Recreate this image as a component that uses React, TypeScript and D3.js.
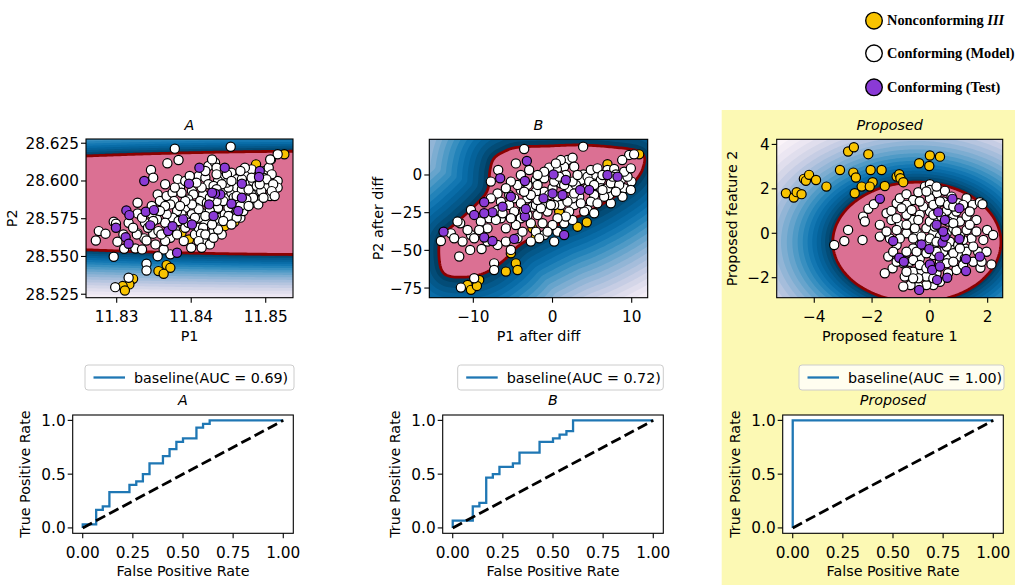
import React from "react";
import * as d3 from "d3";

// ---------------- DATA ----------------
const legendLabels = ["Nonconforming ", "Conforming (Model)", "Conforming (Test)"];

// Panel A (P1, P2)
const A_model = [
  [11.8378,28.6214],[11.8453,28.6227],[11.8383,28.6139],[11.8368,28.6117],[11.8346,28.6073],[11.8349,28.6022],[11.8507,28.6141],[11.8516,28.6177],
  [11.8272,28.5606],[11.8276,28.5668],[11.8285,28.5651],[11.8296,28.5730],[11.8299,28.5717],[11.8301,28.5598],[11.8310,28.5551],[11.8316,28.5723],
  [11.8325,28.5553],[11.8328,28.5653],[11.8328,28.5856],[11.8328,28.5785],[11.8337,28.5620],[11.8340,28.5606],[11.8349,28.5651],[11.8356,28.5668],
  [11.8355,28.5911],[11.8358,28.5867],[11.8365,28.5978],[11.8367,28.5900],[11.8375,28.5922],[11.8377,28.5867],[11.8382,28.6011],[11.8385,28.5956],
  [11.8392,28.6000],[11.8401,28.5933],[11.8410,28.6033],[11.8419,28.6022],[11.8423,28.6099],[11.8432,28.6121],[11.8428,28.6143],[11.8434,28.6088],
  [11.8454,28.6055],[11.8461,28.6011],[11.8472,28.6044],[11.8481,28.6077],[11.8499,28.6066],[11.8504,28.6088],[11.8506,28.6143],[11.8516,28.6000],
  [11.8516,28.5956],[11.8506,28.5900],[11.8501,28.5967],[11.8490,28.5933],[11.8481,28.5911],[11.8486,28.5878],[11.8472,28.5845],[11.8450,28.5900],
  [11.8445,28.5944],[11.8423,28.5978],[11.8416,28.5911],[11.8412,28.5867],[11.8407,28.5823],[11.8403,28.5911],[11.8396,28.5878],[11.8392,28.5823],
  [11.8387,28.5779],[11.8381,28.5801],[11.8375,28.5757],[11.8367,28.5779],[11.8365,28.5723],[11.8383,28.5735],[11.8392,28.5690],[11.8405,28.5646],
  [11.8400,28.5558],[11.8416,28.5606],[11.8423,28.5646],[11.8430,28.5668],[11.8434,28.5712],[11.8439,28.5757],[11.8445,28.5779],[11.8450,28.5823],
  [11.8459,28.5845],[11.8466,28.5757],[11.8441,28.5646],[11.8414,28.5790],[11.8401,28.5779],[11.8419,28.5723],[11.8410,28.5690],[11.8436,28.5823],
  [11.8443,28.5867],[11.8454,28.5922],[11.8461,28.5956],[11.8468,28.5944],[11.8477,28.5978],[11.8483,28.6000],[11.8477,28.5944],[11.8481,28.5856],
  [11.8490,28.6000],[11.8497,28.6022],[11.8508,28.6044],[11.8442,28.6022],[11.8436,28.6000],[11.8430,28.5967],[11.8372,28.5514],[11.8363,28.5547],
  [11.8355,28.5502],[11.8340,28.5452],[11.8340,28.5407],[11.8296,28.5498],[11.8316,28.5359],[11.8298,28.5297],[11.8327,28.5646],[11.8450,28.5956],
  [11.8457,28.5889],[11.8463,28.5878],[11.8434,28.5867],[11.8425,28.5801],[11.8432,28.5746],[11.8421,28.5856],[11.8410,28.5757],[11.8392,28.5746],
  [11.8378,28.5679],[11.8372,28.5624],[11.8365,28.5602],[11.8354,28.5746],[11.8347,28.5834],[11.8338,28.5723],[11.8347,28.5779],[11.8416,28.5690],
  [11.8425,28.5580],[11.8413,28.5651],[11.8461,28.5801],[11.8470,28.5801],[11.8490,28.5845],[11.8501,28.6011],[11.8510,28.5978],[11.8468,28.6011],
  [11.8448,28.5989],[11.8461,28.5900],
  [11.8434,28.6044],[11.8441,28.5978],[11.8448,28.6044],[11.8454,28.6000],[11.8472,28.6088],[11.8466,28.6066],[11.8481,28.6022],[11.8488,28.5967],
  [11.8494,28.5933],[11.8508,28.5933],[11.8512,28.5900],[11.8497,28.5889],[11.8492,28.5978],[11.8483,28.5889],[11.8474,28.5878],[11.8466,28.5834],
  [11.8477,28.5834],[11.8450,28.5768],[11.8443,28.5735],[11.8436,28.5679],[11.8428,28.5712],[11.8419,28.5768],[11.8410,28.5812],[11.8401,28.5845],
  [11.8392,28.5867],[11.8387,28.5922],[11.8378,28.5956],[11.8372,28.5845],[11.8365,28.5834],[11.8358,28.5801],[11.8349,28.5735],[11.8342,28.5690],
  [11.8360,28.5646],[11.8381,28.5646],[11.8390,28.5602],[11.8410,28.5602],[11.8419,28.5646],[11.8430,28.5624],[11.8414,28.5558],[11.8405,28.5757],
  [11.8396,28.5723],[11.8385,28.5834],[11.8461,28.5757],[11.8454,28.5712],[11.8425,28.5889],[11.8434,28.5945],[11.8414,28.5956],[11.8407,28.5989],
  [11.8398,28.6033],[11.8419,28.6066],[11.8334,28.5757],[11.8322,28.5690],[11.8309,28.5646],[11.8334,28.5547],[11.8352,28.5580]
];
const A_test = [
  [11.8313,28.5805],[11.8317,28.5774],[11.8299,28.5690],[11.8312,28.5628],[11.8316,28.5584],[11.8337,28.6000],[11.8345,28.5706],[11.8339,28.5796],
  [11.8350,28.5807],[11.8369,28.5668],[11.8375,28.5701],[11.8389,28.5746],[11.8401,28.5712],[11.8397,28.5982],[11.8411,28.6088],[11.8445,28.6088],
  [11.8468,28.5982],[11.8492,28.6066],[11.8491,28.6026],[11.8439,28.5911],[11.8432,28.5916],[11.8428,28.5922],[11.8424,28.5845],[11.8430,28.5768],
  [11.8454,28.5849],[11.8463,28.5801],[11.8468,28.5889],[11.8381,28.5525]
];
const A_nonconf = [
  [11.8525,28.6177],[11.8487,28.6110],[11.8387,28.5657],[11.8397,28.5613],[11.8458,28.5730],[11.8445,28.5701],[11.8428,28.5779],[11.8367,28.5443],
  [11.8372,28.5425],[11.8356,28.5403],[11.8363,28.5385],[11.8320,28.5348],[11.8322,28.5352],[11.8317,28.5315],[11.8308,28.5304],[11.8311,28.5275]
];

// Panel B (P1 after diff, P2 after diff)
const B_model = [
  [-3.58,17.2],[3.87,18.8],[-4.63,7.7],[-6.86,3.3],[-7.79,-4.4],[9.68,13.3],[10.3,13.7],[8.8,9.9],[1.89,9.9],[2.53,11.5],[1.47,5.5],[0.55,4.0],
  [-0.42,4.9],[2.74,5.5],[3.91,0.4],[5.26,0],[6.1,-3.3],[6.94,3.3],[7.79,4.0],[8.0,0.4],[8.63,-3.3],[9.97,-4.4],[9.05,-8.8],[8.84,-14.4],
  [7.37,-18.8],[7.15,-13.3],[6.1,-8.8],[5.26,-13.3],[4.84,-17.7],[4.42,-23.2],[5.26,-25.4],[4.42,-8.8],[3.37,-14.4],[2.74,-19.9],[2.1,-24.3],
  [1.47,-32.0],[0.63,-37.6],[0.21,-44.2],[-1.05,-39.8],[-2.1,-37.6],[-2.74,-32.0],[-3.16,-26.5],[-2.53,-21.0],[-1.68,-16.6],[-1.05,-11.1],
  [0,-8.8],[0.63,-14.4],[1.05,-19.9],[2.1,-8.8],[1.05,-5.5],[-2.1,-3.3],[-3.16,-6.6],[-4.0,-9.9],[-4.84,-15.5],[-5.47,-19.9],[-6.52,-17.7],
  [-6.94,-23.2],[-8.0,-28.7],[-9.05,-30.9],[-10.3,-23.2],[-11.66,-32.0],[-11.36,-44.2],[-12.0,-30.9],[-12.84,-38.7],[-14.1,-43.8],[-10.3,-39.8],
  [-9.89,-42.0],[-8.96,-49.1],[-10.4,-49.7],[-11.78,-54.1],[-7.37,-58.6],[-7.37,-63.0],[-9.89,-68.5],[-11.57,-74.7],[-5.26,-49.7],[-4.42,-42.0],
  [-5.89,-35.4],[-6.52,-28.7],[-4.0,-28.7],[-4.84,-24.3],[-3.58,-23.2],[-1.89,-26.5],[-1.26,-32.0],[-0.63,-24.3],[-0.84,-18.8],[0.21,-19.9],
  [-0.42,-13.3],[-2.1,-11.1],[-3.16,-15.5],[-4.0,-18.8],[-5.47,-13.3],[3.58,-3.3],[4.42,-1.1],[2.95,-6.6],[5.05,-5.5],[6.94,-8.8],[7.37,-5.5],
  [9.89,-9.9],[4.0,-24.3],[-1.89,-6.6],[1.68,0],[-1.05,-2.2],[0.21,-4.4],[-0.21,-19.9],[-2.1,-19.9],[2.53,-29.8],
  [1.47,-6.6],[2.53,-4.4],[3.16,0],[4.84,3.3],[5.68,4.4],[6.31,0],[7.58,-1.1],[8.42,-6.6],[9.47,-1.1],[8.0,-11.1],[6.52,-14.4],[5.68,-18.8],
  [3.58,-18.8],[2.53,-15.5],[1.89,-17.7],[1.68,-27.6],[0.63,-28.7],[0,-33.2],[-0.63,-37.6],[-1.68,-42.0],[-2.74,-44.2],[-3.79,-37.6],
  [-4.63,-33.2],[-5.26,-28.7],[-6.31,-25.4],[-7.15,-29.8],[-8.21,-35.4],[-9.26,-36.5],[-8.21,-44.2],[-6.94,-46.4],[-5.89,-44.2],[-10.73,-36.5],
  [-12.42,-42.0],[-1.47,-22.1],[-1.89,-16.6],[-2.74,-13.3],[-3.58,-11.1],[-4.42,-6.6],[-5.26,-4.4],[-5.89,-8.8],[-6.94,-12.2],[-7.79,-15.5],
  [-1.05,2.2],[-1.89,0],[-2.95,3.3],[-4.0,0],[0.84,-1.1],[2.74,-12.2],[4.63,-4.4],[5.26,-6.6],[6.31,-9.9],[9.05,2.2],[9.89,4.4],[1.05,9.9],[0.42,7.7]
];
const B_test = [
  [-3.24,9.3],[-6.61,-2.2],[-3.49,-4.0],[0.13,0.4],[1.68,-3.3],[0,-12.2],[1.26,-13.3],[3.49,-9.9],[4.63,-9.9],[6.94,0],[8.21,-1.1],
  [-5.26,-14.4],[-6.31,-21.0],[-7.58,-24.8],[-8.63,-18.1],[-9.89,-26.5],[-8.63,-25.4],[-8.63,-41.5],[-7.58,-43.8],[-4.84,-42.4],[-3.49,-27.6],
  [-3.37,-22.5],[-13.76,-37.6],[1.47,-39.8],[-1.14,-15.5]
];
const B_nonconf = [
  [10.94,13.7],[6.94,7.1],[4.33,-31.4],[3.16,-34.3],[0.84,-24.3],[-2.53,-35.4],[-2.1,-40.9],[-5.26,-51.9],[-4.63,-58.6],[-4.42,-63.0],
  [-5.89,-64.1],[-9.26,-69.6],[-10.73,-72.9],[-10.3,-76.2],[-9.55,-73.6]
];
// decision boundary of panel B (data units)
const B_boundary = [
  [-7.9,3],[-7.4,11],[-6.1,15.5],[-4.4,18.4],[-0.6,19.2],[3.6,19.9],[7.8,18.4],[10.7,16.1],[11.6,12],[11.5,6],[11,0],[9.9,-6.6],
  [7.8,-14.4],[5.7,-21],[3.2,-27.6],[0.6,-33.2],[-2.7,-42],[-4.4,-47.5],[-6.1,-56.4],[-8.2,-64.1],[-10.3,-67.4],[-12.8,-67.4],
  [-13.9,-64.1],[-14.3,-56.4],[-14.3,-45.3],[-13.7,-38.7],[-12,-31],[-9.5,-18.8],[-8.2,-9.9]
];

// Panel Proposed
const P_model = [
  [-3.31,-0.53],[-2.96,-0.35],[-2.83,0.15],[-2.33,-0.30],[-2.31,0.75],[-2.25,0.53],[-2.13,1.10],[-1.94,1.31],[-1.73,0.38],[-1.73,-0.15],
  [-1.50,0.90],[-1.44,-1.05],[-1.29,-1.58],[-1.56,-1.80],[-1.33,1.01],[-1.15,1.35],[-1.04,1.58],[-0.81,1.76],[-0.58,1.50],[-0.40,1.85],
  [-0.17,2.10],[0,2.21],[0,1.95],[0.25,1.80],[0.52,1.91],[0.75,1.65],[0.98,1.35],[1.27,1.58],[1.48,1.28],[1.73,1.40],[1.82,1.31],
  [1.98,0.15],[2.13,-1.40],[1.75,-1.55],[1.50,-1.28],[1.44,-0.23],[1.85,-0.30],[1.67,-0.83],[1.21,-0.68],[1.04,-1.05],[0.92,-1.65],
  [0.63,-1.80],[0.35,-2.18],[0.12,-2.33],[-0.12,-2.33],[-0.40,-2.40],[-0.67,-2.33],[-0.92,-2.40],[-0.87,-1.95],[-0.58,-1.73],[-0.29,-1.65],
  [0,-1.43],[0.35,-1.28],[0.63,-1.13],[0.81,-0.68],[1.15,-0.30],[1.27,0.15],[1.04,0.53],[0.81,0.75],[0.58,1.01],[0.92,0.98],[1.27,0.75],
  [1.61,0.60],[1.38,0.38],[0.23,1.28],[0,0.98],[-0.23,1.20],[-0.35,0.83],[-0.58,0.60],[-0.81,0.83],[-1.04,0.38],[-0.81,0],[-0.46,0.08],
  [-0.12,0.23],[0.12,0],[0.35,-0.15],[0.58,0],[0.81,0.23],[1.04,-0.15],[0.12,-0.53],[-0.12,-0.38],[-0.35,-0.53],[-0.58,-0.68],[-0.81,-0.83],
  [-0.98,-1.20],[-0.69,-1.28],[-0.35,-1.13],[0.12,-0.98],[0.46,-0.83],[0.69,-0.38],[-1.15,-0.53],[-1.04,-0.23],[-0.58,-0.23],[-0.29,-0.15],
  [0,0.53],[0.29,0.60],[0.46,1.43],[0,1.58],[-0.35,1.43],[-0.81,1.28],[-1.33,0.60],[-0.92,-1.35],[-0.12,-1.95],[-0.40,-2.03],[0.23,-1.80],
  [1.21,-1.13],
  [0.12,1.28],[0.35,1.43],[0.63,1.28],[0.81,1.20],[0.12,0.83],[0.40,0.75],[0.63,0.53],[0.81,0.45],[0.17,0.30],[0,-0.23],[0.23,-0.38],
  [0.58,-0.60],[0.81,-0.90],[0.58,-1.35],[0.23,-0.83],[-0.12,-0.90],[-0.46,-0.83],[-0.58,-1.20],[-0.35,-1.43],[-0.12,-1.58],[0.12,-2.03],
  [-0.58,-2.03],[-0.81,-1.73],[-1.15,-1.28],[-1.27,-0.83],[-1.38,-0.23],[-1.50,0.08],[-1.15,0.15],[-0.81,0.38],[-0.52,0.23],[-0.40,0.60],
  [-0.63,1.05],[-0.98,1.13],[-1.15,0.68],[-0.12,1.88],[0.23,2.10],[1.15,1.28],[1.38,0.98],[1.61,0.08],[1.27,-0.83],[1.50,-0.60],[0.98,-0.53],
  [1.15,-1.43],[0.81,-1.28],[1.79,-1.28],[1.96,-0.83],[2.19,-0.08],[0.92,0.08],[1.04,-0.68]
];
const P_test = [
  [-1.73,1.55],[-1.27,-0.35],[-1.06,-1.10],[-0.90,-1.28],[-0.29,-0.50],[-0.02,-0.71],[0,-1.40],[0.08,-1.65],[0.25,-2.10],[0.60,-2.00],
  [0.35,-1.50],[0.33,-1.05],[0.44,-0.42],[0.52,-0.15],[0.46,0.08],[0.52,0.60],[0.29,0.95],[0.23,0.38],[0.78,1.55],[1.02,1.13],
  [1.02,-0.26],[1.25,-1.16],[1.25,-1.70],[1.73,-1.05],[-0.37,-2.55]
];
const P_nonconf = [
  [-4.98,1.80],[-4.71,1.61],[-4.61,1.85],[-4.44,1.76],[-4.36,2.45],[-4.29,2.36],[-4.18,2.63],[-3.94,2.40],[-3.58,2.10],[-3.11,2.85],
  [-2.83,3.68],[-2.63,3.87],[-2.65,2.73],[-2.56,2.51],[-2.60,1.80],[-2.36,2.10],[-2.13,3.56],[-2.05,2.85],[-1.98,2.30],[-2.08,2.10],
  [-1.67,2.85],[-1.56,2.13],[-1.15,2.55],[-1.06,2.66],[-1.02,2.48],[-0.92,2.30],[-0.37,3.15],[0,3.50],[-0.02,3.03],[0.35,3.45]
];

// ROC curves
const rocA_fpr = [0,0,0.067,0.067,0.1,0.1,0.133,0.133,0.233,0.233,0.267,0.267,0.3,0.3,0.333,0.333,0.4,0.4,0.433,0.433,0.467,0.467,0.5,0.5,0.567,0.567,0.6,0.6,0.633,0.633,1.0];
const rocA_tpr = [0,0.033,0.033,0.167,0.167,0.2,0.2,0.333,0.333,0.4,0.4,0.433,0.433,0.5,0.5,0.6,0.6,0.667,0.667,0.733,0.733,0.8,0.8,0.833,0.833,0.933,0.933,0.967,0.967,1.0,1.0];
const rocB_fpr = [0,0,0.1,0.1,0.133,0.133,0.167,0.167,0.2,0.2,0.233,0.233,0.3,0.3,0.333,0.333,0.433,0.433,0.5,0.5,0.533,0.533,0.567,0.567,0.6,0.6,1.0];
const rocB_tpr = [0,0.067,0.067,0.2,0.2,0.233,0.233,0.467,0.467,0.5,0.5,0.567,0.567,0.6,0.6,0.7,0.7,0.8,0.8,0.833,0.833,0.867,0.867,0.9,0.9,1.0,1.0];
const rocP_fpr = [0,0,1];
const rocP_tpr = [0,1,1];
const aucLabels = ["baseline(AUC = 0.69)", "baseline(AUC = 0.72)", "baseline(AUC = 1.00)"];
const rocTicksX = [0,0.25,0.5,0.75,1];
const rocTicksY = [0,0.5,1];

// ---------------- STYLE ----------------
const FONT = "DejaVu Sans";
const FS = 14.3;
const TFS = 15.3;
const C = {
  model: "#ffffff", test: "#8a3ad6", nonconf: "#f8c300",
  inside: "#db7093", boundary: "#8b0000", roc: "#1f77b4", panel: "#fcf9b4",
};
const NLEV = 20;

function Contours({ box, field }) {
  const cs = 2;
  const nx = Math.ceil((box.r - box.l) / cs) + 2;
  const ny = Math.ceil((box.b - box.t) / cs) + 2;
  const values = new Array(nx * ny);
  for (let j = 0; j < ny; j++) for (let i = 0; i < nx; i++) values[j * nx + i] = field(box.l + i * cs, box.t + j * cs);
  const zmin = d3.min(values) - 1e-9;
  const levels = d3.range(1, NLEV + 1).map((k) => (k === NLEV ? 0 : zmin + (k * (0 - zmin)) / NLEV));
  const cont = d3.contours().size([nx, ny]).thresholds(levels)(values);
  const proj = d3.geoTransform({
    point(x, y) { this.stream.point(box.l + (x - 0.5) * cs, box.t + (y - 0.5) * cs); },
  });
  const path = d3.geoPath(proj);
  return (
    <g>
      <rect x={box.l} y={box.t} width={box.r - box.l} height={box.b - box.t} fill={d3.interpolatePuBu(0.5 / NLEV)} />
      {cont.map((c, k) =>
        k === NLEV - 1 ? (
          <path key={k} d={path(c)} fill={C.inside} stroke={C.boundary} strokeWidth={2.8} />
        ) : (
          <path key={k} d={path(c)} fill={d3.interpolatePuBu((k + 1.5) / NLEV)} />
        )
      )}
    </g>
  );
}

function Axes({ box, sx, sy, xTicks, yTicks, fx, fy, title, xLabel, yLabel, yLabelX, titleDy }) {
  const cx = (box.l + box.r) / 2, cy = (box.t + box.b) / 2;
  return (
    <g fontFamily={FONT} fontSize={FS} fill="#000">
      <rect x={box.l} y={box.t} width={box.r - box.l} height={box.b - box.t} fill="none" stroke="#000" strokeWidth={1.1} />
      {xTicks.map((t) => (
        <g key={"x" + t}>
          <line x1={sx(t)} x2={sx(t)} y1={box.b} y2={box.b + 5} stroke="#000" strokeWidth={1.1} />
          <text x={sx(t)} y={box.b + 19} dy="0.36em" textAnchor="middle" fontSize={TFS}>{fx(t)}</text>
        </g>
      ))}
      {yTicks.map((t) => (
        <g key={"y" + t}>
          <line x1={box.l - 5} x2={box.l} y1={sy(t)} y2={sy(t)} stroke="#000" strokeWidth={1.1} />
          <text x={box.l - 7} y={sy(t)} dy="0.36em" textAnchor="end" fontSize={TFS}>{fy(t)}</text>
        </g>
      ))}
      <text x={cx} y={box.t - titleDy} dy="0.36em" textAnchor="middle" fontStyle="italic">{title}</text>
      <text x={cx} y={box.b + 38} dy="0.36em" textAnchor="middle">{xLabel}</text>
      <text transform={`translate(${yLabelX},${cy}) rotate(-90)`} dy="0.36em" textAnchor="middle">{yLabel}</text>
    </g>
  );
}

function Points({ data, sx, sy, fill }) {
  return (
    <g>
      {data.map((d, i) => (
        <circle key={i} cx={sx(d[0])} cy={sy(d[1])} r={4.6} fill={fill} stroke="#000" strokeWidth={1.2} />
      ))}
    </g>
  );
}

function ScatterPanel({ id, box, xDomain, yDomain, fieldMaker, model, test, nonconf, ...axes }) {
  const sx = d3.scaleLinear().domain(xDomain).range([box.l, box.r]);
  const sy = d3.scaleLinear().domain(yDomain).range([box.b, box.t]);
  const field = fieldMaker(sx, sy);
  return (
    <g>
      <defs>
        <clipPath id={id}>
          <rect x={box.l} y={box.t} width={box.r - box.l} height={box.b - box.t} />
        </clipPath>
      </defs>
      <g clipPath={`url(#${id})`}>
        <Contours box={box} field={field} />
        <Points data={nonconf} sx={sx} sy={sy} fill={C.nonconf} />
        <Points data={model} sx={sx} sy={sy} fill={C.model} />
        <Points data={test} sx={sx} sy={sy} fill={C.test} />
      </g>
      <Axes box={box} sx={sx} sy={sy} {...axes} />
    </g>
  );
}

function RocPanel({ box, fpr, tpr, label, title, legendBox }) {
  const sx = d3.scaleLinear().domain([-0.05, 1.05]).range([box.l, box.r]);
  const sy = d3.scaleLinear().domain([-0.05, 1.05]).range([box.b, box.t]);
  const line = d3.line().x((d) => sx(d[0])).y((d) => sy(d[1]));
  const pts = fpr.map((f, i) => [f, tpr[i]]);
  const lb = legendBox;
  return (
    <g>
      <rect x={box.l} y={box.t} width={box.r - box.l} height={box.b - box.t} fill="#fff" />
      <path d={line(pts)} fill="none" stroke={C.roc} strokeWidth={2.3} />
      <path d={line([[0, 0], [1, 1]])} fill="none" stroke="#000" strokeWidth={2.8} strokeDasharray="10.5,4.5" />
      <Axes box={box} sx={sx} sy={sy} xTicks={rocTicksX} yTicks={rocTicksY} fx={d3.format(".2f")} fy={d3.format(".1f")}
        title={title} xLabel="False Positive Rate" yLabel="True Positive Rate" yLabelX={box.l - 48} titleDy={15} />
      <rect x={lb.x} y={lb.y} width={lb.w} height={lb.h} rx={3} fill="#fff" fillOpacity={0.8} stroke="#cccccc" strokeWidth={1} />
      <line x1={lb.x + 8.5} x2={lb.x + 40} y1={lb.y + lb.h / 2} y2={lb.y + lb.h / 2} stroke={C.roc} strokeWidth={2.3} />
      <text x={lb.x + 49} y={lb.y + lb.h / 2} dy="0.36em" fontFamily={FONT} fontSize={FS}>{label}</text>
    </g>
  );
}

// elliptical decision field (log-scaled radius)
const ellipseField = (c, rad) => (sx, sy) => (px, py) => {
  const u = (sx.invert(px) - c[0]) / rad[0];
  const v = (sy.invert(py) - c[1]) / rad[1];
  return -Math.log(Math.sqrt(u * u + v * v) + 1e-9);
};

// signed-distance decision field around a smooth closed boundary
const polygonField = (poly) => (sx, sy) => {
  const P = poly.map((p) => [sx(p[0]), sy(p[1])]);
  const n = P.length;
  const dense = [];
  for (let i = 0; i < n; i++) {
    const p0 = P[(i - 1 + n) % n], p1 = P[i], p2 = P[(i + 1) % n], p3 = P[(i + 2) % n];
    for (let s = 0; s < 8; s++) {
      const t = s / 8, t2 = t * t, t3 = t2 * t;
      const f = (k) => 0.5 * (2 * p1[k] + (-p0[k] + p2[k]) * t + (2 * p0[k] - 5 * p1[k] + 4 * p2[k] - p3[k]) * t2 + (-p0[k] + 3 * p1[k] - 3 * p2[k] + p3[k]) * t3);
      dense.push([f(0), f(1)]);
    }
  }
  const m = dense.length;
  return (px, py) => {
    let best = Infinity;
    for (let i = 0; i < m; i++) {
      const a = dense[i], b = dense[(i + 1) % m];
      const dx = b[0] - a[0], dy = b[1] - a[1];
      const L2 = dx * dx + dy * dy;
      let t = L2 > 0 ? ((px - a[0]) * dx + (py - a[1]) * dy) / L2 : 0;
      t = Math.max(0, Math.min(1, t));
      const ex = a[0] + t * dx - px, ey = a[1] + t * dy - py;
      const d = ex * ex + ey * ey;
      if (d < best) best = d;
    }
    const d = Math.sqrt(best);
    return d3.polygonContains(dense, [px, py]) ? d : -d;
  };
};

export default function App() {
  const fmtMinus = d3.format("d");
  return (
    <svg width={1019} height={585} style={{ position: "absolute", left: 0, top: 0, background: "#fff" }}>
      <rect x={0} y={0} width={1019} height={585} fill="#fff" />
      <rect x={721.7} y={110} width={293.3} height={475} fill={C.panel} />

      {/* top legend */}
      <g fontFamily="Liberation Serif" fontWeight="bold" fontSize={14.4}>
        {[C.nonconf, C.model, C.test].map((col, i) => {
          const cy = [20.7, 53.3, 87.3][i];
          return (
            <g key={i}>
              <circle cx={874} cy={cy} r={8.3} fill={col} stroke="#000" strokeWidth={1.4} />
              <text x={887} y={cy} dy="0.33em">
                {legendLabels[i]}
                {i === 0 ? <tspan fontStyle="italic">III</tspan> : null}
              </text>
            </g>
          );
        })}
      </g>

      <ScatterPanel id="clipA" box={{ l: 86, r: 293, t: 139, b: 297.7 }}
        xDomain={[11.82588, 11.85366]} yDomain={[28.5227, 28.6278]}
        fieldMaker={ellipseField([11.86, 28.5855], [0.08, 0.0343])}
        model={A_model} test={A_test} nonconf={A_nonconf}
        xTicks={[11.83, 11.84, 11.85]} yTicks={[28.525, 28.55, 28.575, 28.6, 28.625]}
        fx={d3.format(".2f")} fy={d3.format(".3f")} title="A" xLabel="P1" yLabel="P2" yLabelX={11.7} titleDy={14} />

      <ScatterPanel id="clipB" box={{ l: 429.3, r: 647.7, t: 139.3, b: 297.7 }}
        xDomain={[-15.56, 12.02]} yDomain={[-81.4, 23.67]}
        fieldMaker={polygonField(B_boundary)}
        model={B_model} test={B_test} nonconf={B_nonconf}
        xTicks={[-10, 0, 10]} yTicks={[-75, -50, -25, 0]}
        fx={fmtMinus} fy={fmtMinus} title="B" xLabel="P1 after diff" yLabel="P2 after diff" yLabelX={378.3} titleDy={14} />

      <ScatterPanel id="clipP" box={{ l: 776.7, r: 1002.7, t: 139.3, b: 297.7 }}
        xDomain={[-5.30, 2.52]} yDomain={[-2.90, 4.23]}
        fieldMaker={ellipseField([-0.45, -0.40], [2.91, 2.70])}
        model={P_model} test={P_test} nonconf={P_nonconf}
        xTicks={[-4, -2, 0, 2]} yTicks={[-2, 0, 2, 4]}
        fx={fmtMinus} fy={fmtMinus} title="Proposed" xLabel="Proposed feature 1" yLabel="Proposed feature 2" yLabelX={732.3} titleDy={14} />

      <RocPanel box={{ l: 72.7, r: 293.3, t: 415, b: 533.3 }} fpr={rocA_fpr} tpr={rocA_tpr} label={aucLabels[0]} title="A"
        legendBox={{ x: 85, y: 365, w: 209, h: 25 }} />
      <RocPanel box={{ l: 442.7, r: 663.3, t: 415, b: 533.3 }} fpr={rocB_fpr} tpr={rocB_tpr} label={aucLabels[1]} title="B"
        legendBox={{ x: 457.7, y: 365, w: 205.6, h: 25 }} />
      <RocPanel box={{ l: 782.7, r: 1003.3, t: 415, b: 533.3 }} fpr={rocP_fpr} tpr={rocP_tpr} label={aucLabels[2]} title="Proposed"
        legendBox={{ x: 799, y: 365, w: 205, h: 25 }} />
    </svg>
  );
}
